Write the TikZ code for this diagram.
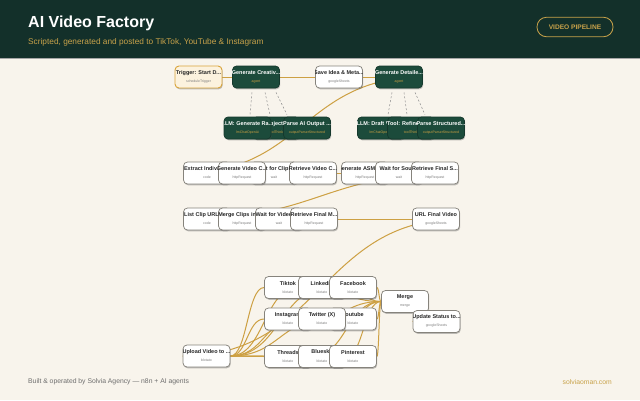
\documentclass[tikz,border=0pt]{standalone}
\usepackage{fontspec}
\setmainfont{Liberation Sans}
\usetikzlibrary{calc,shadows}
\definecolor{bgc}{HTML}{F8F4EC}
\definecolor{hdr}{HTML}{13302A}
\definecolor{gold}{HTML}{CDA043}
\definecolor{goldtxt}{HTML}{C8A24A}
\definecolor{ngreen}{HTML}{1C4B3B}
\definecolor{nborder}{HTML}{86837C}
\definecolor{subg}{HTML}{7C7C7C}
\definecolor{trigfill}{HTML}{FCF2DE}
\definecolor{trigbrd}{HTML}{D9A43A}
\definecolor{foot}{HTML}{6E6E6E}
\pgfdeclarelayer{back}\pgfdeclarelayer{wires}\pgfsetlayers{back,wires,main}
\tikzset{
 box/.style={rounded corners=4pt, minimum width=47pt, minimum height=22pt, inner sep=0pt,
   drop shadow={shadow xshift=0.7pt, shadow yshift=-1.3pt, opacity=0.35, fill=black!70}},
 wbox/.style={box, fill=white, draw=nborder, line width=0.75pt},
 gbox/.style={box, fill=ngreen, draw=ngreen!75!black, line width=0.7pt},
 tbox/.style={box, fill=trigfill, draw=trigbrd, line width=0.9pt},
 ttl/.style={font=\fontsize{5.5}{6}\selectfont\bfseries, inner sep=0pt},
 sbt/.style={font=\fontsize{3.5}{4}\selectfont, inner sep=0pt},
 wire/.style={draw=gold, line width=1pt},
 aid/.style={draw=black!45, dash pattern=on 2pt off 2pt, line width=0.5pt},
}
\newcommand\mk[8]{%
 \node[#1] (#2) at (#3,#4) {};
 \begin{scope}
 \clip[rounded corners=4pt] (#2.south west) rectangle (#2.north east);
 \node[ttl, text=#7] (#2t) at ([yshift=4.3pt]#2.center) {#5};
 \node[sbt, text=#8] (#2s) at ([yshift=-4.3pt]#2.center) {#6};
 \end{scope}}
\newcommand\wn[5]{\mk{wbox}{#1}{#2}{#3}{#4}{#5}{black!85}{subg}}
\newcommand\gn[5]{\mk{gbox}{#1}{#2}{#3}{#4}{#5}{white}{gold}}
\newcommand\cn[2]{\draw[wire] let \p1=(#1.east), \p2=(#2.west), \n1={0.5*\x1+0.5*\x2} in
  (\p1) .. controls (\n1,\y1) and (\n1,\y2) .. (\p2);}
\begin{document}
\begin{tikzpicture}[x=1pt,y=-1pt]
\useasboundingbox (0,0) rectangle (640,400);
\begin{pgfonlayer}{back}
\fill[bgc] (0,0) rectangle (640,400);
\fill[hdr] (0,0) rectangle (640,58);
\draw[black!35, line width=0.6pt] (0,58.3) -- (640,58.3);
\end{pgfonlayer}
% header
\node[anchor=base west, font=\fontsize{16}{18}\selectfont\bfseries, text=white, inner sep=0pt] (title) at (28,27) {AI Video Factory};
\node[anchor=base west, font=\fontsize{8.3}{10}\selectfont, text=goldtxt, inner sep=0pt] (subtitle) at (28,44.5) {Scripted, generated and posted to TikTok, YouTube \& Instagram};
\node[draw=goldtxt, line width=0.8pt, rounded corners=9.5pt, minimum width=76pt, minimum height=19.5pt, text=goldtxt, font=\fontsize{6.6}{8}\selectfont\bfseries, inner sep=0pt] (badge) at (575,27) {VIDEO PIPELINE};
% footer
\node[anchor=west, font=\fontsize{6.8}{8}\selectfont, text=foot, inner sep=0pt] (foot) at (28,382) {Built \& operated by Solvia Agency — n8n + AI agents};
\node[anchor=east, font=\fontsize{6.8}{8}\selectfont, text=goldtxt, inner sep=0pt] (site) at (612,382) {solviaoman.com};
% row 1
\mk{tbox}{trg}{198.5}{77}{Trigger: Start D...}{scheduleTrigger}{black!85}{subg}
\gn{gc}{256}{77}{Generate Creativ...}{agent}
\wn{si}{339}{77}{Save Idea \& Meta...}{googleSheets}
\gn{gd}{399}{77}{Generate Detaile...}{agent}
% row 2
\gn{tl}{276}{128}{Tool: Inject Cre...}{toolThink}
\gn{ll}{247.5}{128}{LLM: Generate Ra...}{lmChatOpenAi}
\gn{pl}{307}{128}{Parse AI Output ...}{outputParserStructured}
\gn{ld}{381}{128}{LLM: Draft Video...}{lmChatOpenAi}
\gn{tr}{411}{128}{Tool: Refine and...}{toolThink}
\gn{ps}{441}{128}{Parse Structured...}{outputParserStructured}
% row 3
\wn{ex}{207}{173}{Extract Individu...}{code}
\wn{wc}{274}{173}{Wait for Clips}{wait}
\wn{gv}{242}{173}{Generate Video C...}{httpRequest}
\wn{rv}{313}{173}{Retrieve Video C...}{httpRequest}
\wn{ga}{365}{173}{Generate ASMR So...}{httpRequest}
\wn{ws}{399}{173}{Wait for Sound}{wait}
\wn{rs}{435}{173}{Retrieve Final S...}{httpRequest}
% row 4
\wn{lc}{207}{219}{List Clip URLs f...}{code}
\wn{mc}{242}{219}{Merge Clips into...}{httpRequest}
\wn{wv}{279}{219}{Wait for Video R...}{wait}
\wn{rm}{314}{219}{Retrieve Final M...}{httpRequest}
\wn{uf}{436}{219}{URL Final Video}{googleSheets}
% publishing
\wn{tk}{288}{287.5}{Tiktok}{blotato}
\wn{li}{322}{287.5}{Linkedin}{blotato}
\wn{fb}{353}{287.5}{Facebook}{blotato}
\wn{ig}{288}{319}{Instagram}{blotato}
\wn{yt}{353}{319}{Youtube}{blotato}
\wn{tw}{322}{319}{Twitter (X)}{blotato}
\wn{th}{288}{356.5}{Threads}{blotato}
\wn{bs}{322}{356.5}{Bluesky}{blotato}
\wn{pi}{353}{356.5}{Pinterest}{blotato}
\wn{up}{206.5}{356}{Upload Video to ...}{blotato}
\wn{mg}{405}{301.5}{Merge}{merge}
\wn{us}{436.5}{321.5}{Update Status to...}{googleSheets}
% connectors
\begin{pgfonlayer}{wires}
\cn{trg}{gc}\cn{gc}{si}\cn{si}{gd}\cn{gd}{ex}
\cn{ex}{gv}\cn{gv}{wc}\cn{wc}{rv}\cn{rv}{ga}\cn{ga}{ws}\cn{ws}{rs}
\cn{rs}{lc}
\cn{lc}{mc}\cn{mc}{wv}\cn{wv}{rm}\cn{rm}{uf}
\cn{uf}{up}
\foreach \q in {tk,li,fb,ig,tw,yt,th,bs,pi}{\cn{up}{\q}\cn{\q}{mg}}
\cn{mg}{us}
\draw[aid] ([xshift=-4pt,yshift=-4pt]gc.south) -- ([xshift=2.5pt,yshift=2pt]ll.north);
\draw[aid] ([xshift=9pt,yshift=-4pt]gc.south) -- ([xshift=-6pt,yshift=2pt]tl.north);
\draw[aid] ([xshift=20pt,yshift=-4pt]gc.south) -- ([xshift=-20pt,yshift=2pt]pl.north);
\draw[aid] ([xshift=-7pt,yshift=-4pt]gd.south) -- ([xshift=7pt,yshift=2pt]ld.north);
\draw[aid] ([xshift=5pt,yshift=-4pt]gd.south) -- ([xshift=-4pt,yshift=2pt]tr.north);
\draw[aid] ([xshift=16pt,yshift=-4pt]gd.south) -- ([xshift=-16pt,yshift=2pt]ps.north);
\end{pgfonlayer}
\end{tikzpicture}
\end{document}
